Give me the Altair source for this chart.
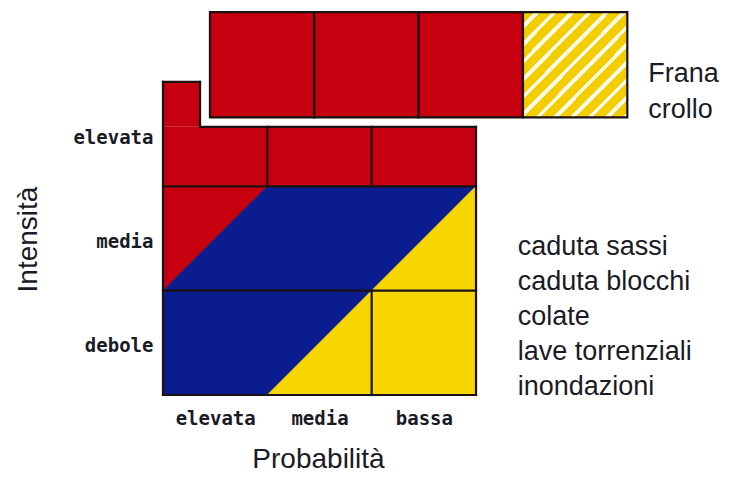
import json
import altair as alt
import pandas as pd

# ---------------- data (class units: x = probabilità columns, y = intensità rows) ----
prob_labels = ["elevata", "media", "bassa"]
int_labels = ["debole", "media", "elevata"]

# risk zones as closed polygons (vertex order given by "k")
zone_name = ["rosso", "rosso", "rosso",
             "blu", "blu", "blu", "blu", "blu",
             "giallo", "giallo", "giallo"]
zone_x = [0, 1, 0, 1, 3, 1, 0, 0, 3, 3, 1]
zone_y = [2, 2, 1, 2, 2, 0, 0, 1, 2, 0, 0]

# intensità elevata row (red cells + notch)
elev_x0 = [0, 1, 2, 0]
elev_x1 = [1, 2, 3, 0.355]
elev_y0 = [2, 2, 2, 2.57]
elev_y1 = [2.57, 2.57, 2.57, 3]

# grid edges
edge_x0 = [0, 3, 3, 0.355, 0.355, 0, 0, 0, 1, 2, 2]
edge_y0 = [0, 0, 2.57, 2.57, 3, 3, 2, 1, 2, 2, 0]
edge_x1 = [3, 3, 0.355, 0.355, 0, 0, 3, 3, 1, 2, 2]
edge_y1 = [0, 2.57, 2.57, 3, 3, 0, 2, 1, 2.57, 2.57, 1]

# Frana crollo bar
bar_kind = ["rosso", "rosso", "rosso", "tratteggio"]
bar_x0 = [0.45, 1.45, 2.45, 3.45]
bar_x1 = [1.45, 2.45, 3.45, 4.45]
bar_y0 = [2.66, 2.66, 2.66, 2.66]
bar_y1 = [3.67, 3.67, 3.67, 3.67]

frana_lines = ["Frana", "crollo"]
list_lines = ["caduta sassi", "caduta blocchi", "colate", "lave torrenziali", "inondazioni"]

# ---------------- styles ----------------
RED = "#C6000E"
BLUE = "#0B1C8C"
YELLOW = "#F7D600"
HATCH_Y = "#F2CE00"
HATCH_W = "#FFF8E0"
EDGE = "#1a1212"
TXT = "#1b1b26"
ZONE_COLORS = {"rosso": RED, "blu": BLUE, "giallo": YELLOW}

xs = alt.Scale(domain=[0, 5.3], nice=False, zero=False)
ys = alt.Scale(domain=[0, 3.68], nice=False, zero=False)

x_axis = alt.Axis(values=[0.5, 1.5, 2.5], title="Probabilità",
                  labelExpr=json.dumps(prob_labels) + "[floor(datum.value)]",
                  domain=False, ticks=False, tickSize=0, grid=False,
                  labelFont="DejaVu Sans Mono", labelFontSize=19, labelFontWeight="bold",
                  labelColor=TXT, labelPadding=14, labelAngle=0,
                  titleFont="Liberation Sans", titleFontSize=28, titleFontWeight="normal",
                  titleColor=TXT, titleX=155, titleY=72, titleAlign="center",
                  titleBaseline="alphabetic")
y_axis = alt.Axis(values=[0.5, 1.5, 2.5], title="Intensità",
                  labelExpr=json.dumps(int_labels) + "[floor(datum.value)]",
                  domain=False, ticks=False, tickSize=0, grid=False,
                  labelFont="DejaVu Sans Mono", labelFontSize=19, labelFontWeight="bold",
                  labelColor=TXT, labelPadding=10, labelOffset=3,
                  titleFont="Liberation Sans", titleFontSize=28, titleFontWeight="normal",
                  titleColor=TXT, titleX=-135, titleY=228, titleAngle=270,
                  titleAlign="center", titleBaseline="middle")


def X(f):
    return alt.X(f, type="quantitative", scale=xs, axis=x_axis)


def Y(f):
    return alt.Y(f, type="quantitative", scale=ys, axis=y_axis)


zones = pd.DataFrame({"zona": zone_name, "px": zone_x, "py": zone_y})
zones["k"] = range(len(zones))
elev = pd.DataFrame({"x0": elev_x0, "x1": elev_x1, "y0": elev_y0, "y1": elev_y1})
edges = pd.DataFrame({"x0": edge_x0, "y0": edge_y0, "x1": edge_x1, "y1": edge_y1})
bar = pd.DataFrame({"kind": bar_kind, "x0": bar_x0, "x1": bar_x1, "y0": bar_y0, "y1": bar_y1})
frana = pd.DataFrame({"t": frana_lines, "x": [4.65] * 2,
                      "y": [3.0 - i * 0.345 for i in range(len(frana_lines))]})
lista = pd.DataFrame({"t": list_lines, "x": [3.4] * len(list_lines),
                      "y": [1.342 - i * 0.3355 for i in range(len(list_lines))]})

layers = []
layers.append(alt.Chart(elev).mark_rect(color=RED).encode(
    x=X("x0"), x2="x1", y=Y("y0"), y2="y1"))

for z in ["rosso", "blu", "giallo"]:
    layers.append(alt.Chart(zones).transform_filter(f"datum.zona == '{z}'").mark_line(
        fill=ZONE_COLORS[z], stroke=ZONE_COLORS[z], strokeWidth=0.8, interpolate="linear-closed").encode(
        x=X("px"), y=Y("py"), order=alt.Order("k:Q")))

layers.append(alt.Chart(edges).mark_rule(color=EDGE, strokeWidth=2.2, strokeCap="square").encode(
    x=X("x0"), x2="x1", y=Y("y0"), y2="y1"))

layers.append(alt.Chart(bar).transform_filter("datum.kind == 'rosso'").mark_rect(
    fill=RED, stroke=EDGE, strokeWidth=2.2).encode(
    x=X("x0"), x2="x1", y=Y("y0"), y2="y1"))

n_stripes = 12
stops = []
for k in range(n_stripes):
    a = k / n_stripes
    b = (k + 0.68) / n_stripes
    c = (k + 1) / n_stripes
    stops += [alt.GradientStop(offset=a, color=HATCH_Y), alt.GradientStop(offset=b, color=HATCH_Y),
              alt.GradientStop(offset=b, color=HATCH_W), alt.GradientStop(offset=c, color=HATCH_W)]
hatch = alt.Gradient(gradient="linear", stops=stops, x1=0, y1=0, x2=1, y2=1)

layers.append(alt.Chart(bar).transform_filter("datum.kind == 'tratteggio'").mark_rect(
    fill=hatch, stroke=EDGE, strokeWidth=2.2).encode(
    x=X("x0"), x2="x1", y=Y("y0"), y2="y1"))

for df in (frana, lista):
    layers.append(alt.Chart(df).mark_text(align="left", baseline="alphabetic",
                                          font="Liberation Sans", fontSize=27, color=TXT).encode(
        x=X("x"), y=Y("y"), text="t:N"))

chart = alt.layer(*layers).properties(
    width=553, height=384, background="white",
    autosize=alt.AutoSizeParams(type="none"),
    padding={"left": 155, "top": 3, "right": 10, "bottom": 77},
).configure_view(strokeWidth=0, strokeOpacity=0)

chart.save("out.html", embed_options={"renderer": "svg", "actions": False})
